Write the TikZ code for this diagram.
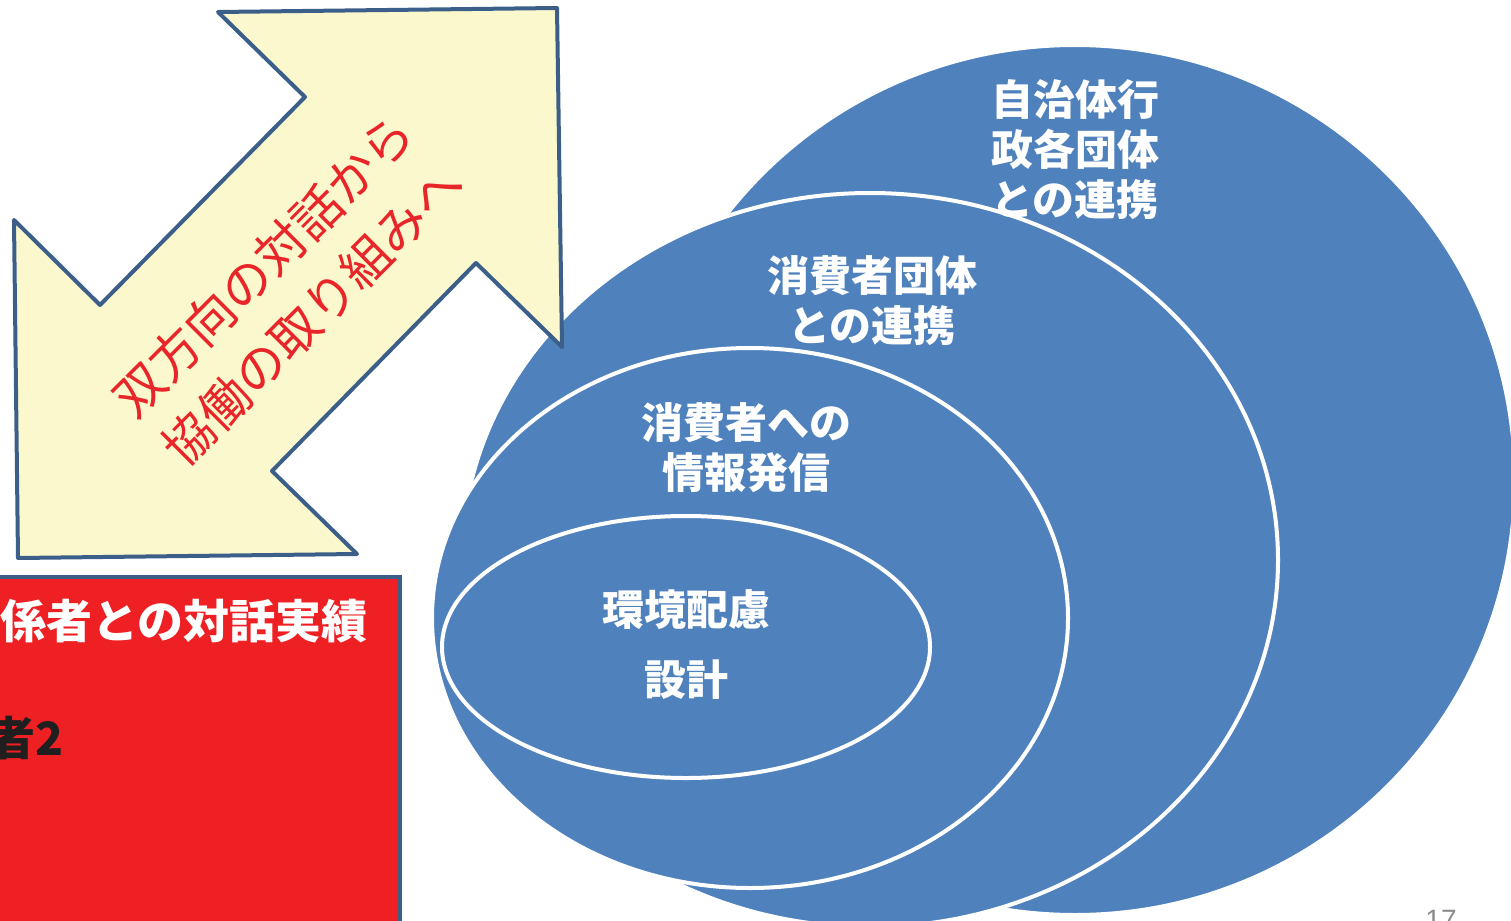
\documentclass[tikz,border=0pt]{standalone}
\usepackage{fontspec}
\newfontfamily\jp{Noto Sans CJK JP}
\setmainfont{Liberation Sans}
\definecolor{ellblue}{HTML}{4F81BD}
\definecolor{arrowfill}{HTML}{FCF8CD}
\definecolor{edgeblue}{HTML}{3C5F8A}
\definecolor{txtred}{HTML}{E8262A}
\definecolor{boxred}{HTML}{EE2024}
\definecolor{pagegray}{HTML}{8C8C8C}
\tikzset{
  ring/.style={fill=ellblue, draw=white, line width=4},
  ringtext/.style={text=white, align=center, inner sep=0, font=\jp\bfseries\fontsize{42}{50}\selectfont},
}
\begin{document}
\begin{tikzpicture}[x=1pt,y=-1pt]
\useasboundingbox (0,0) rectangle (1511,920);
\clip (0,0) rectangle (1511,920);
% nested ellipses
\path[ring] (1075,480) ellipse [x radius=440, y radius=435];
\path[ring] (870,560) ellipse [x radius=408, y radius=367];
\path[ring] (750,618) ellipse [x radius=318, y radius=270];
\path[ring] (686,647) ellipse [x radius=244, y radius=131];
% double arrow
\draw[fill=arrowfill, draw=edgeblue, line width=4, line join=round]
  (218,12) -- (557,8) -- (562,347) -- (476,263) -- (272,471) -- (357,554)
  -- (18,558) -- (14,220) -- (100,305) -- (305,97) -- cycle;
\node[rotate=45, text=txtred, align=center, inner sep=0,
      font=\jp\fontsize{50}{70}\selectfont] (arrowtext) at (288,290)
  {双方向の対話から\\協働の取り組みへ};
% red box
\draw[fill=boxred, draw=edgeblue, line width=4] (-10,577) rectangle (400,940);
\node[anchor=west, inner sep=0, text=white, font=\jp\bfseries\fontsize{46}{50}\selectfont] (boxtitle) at (0,621) {係者との対話実績};
\node[anchor=east, inner sep=0, text=black!88, font=\jp\bfseries\fontsize{46}{50}\selectfont] (boxline) at (64,738) {者2};
% ellipse labels
\node[ringtext] (t1) at (1075,150) {自治体行\\政各団体\\との連携};
\node[ringtext] (t2) at (872,301) {消費者団体\\との連携};
\node[ringtext] (t3) at (746,448) {消費者への\\情報発信};
\node[ringtext] (t4a) at (686,610) {環境配慮};
\node[ringtext] (t4b) at (686,680) {設計};
% page number
\node[text=pagegray, inner sep=0, font=\fontsize{28}{30}\selectfont] (page) at (1441,920) {17};
\end{tikzpicture}
\end{document}
